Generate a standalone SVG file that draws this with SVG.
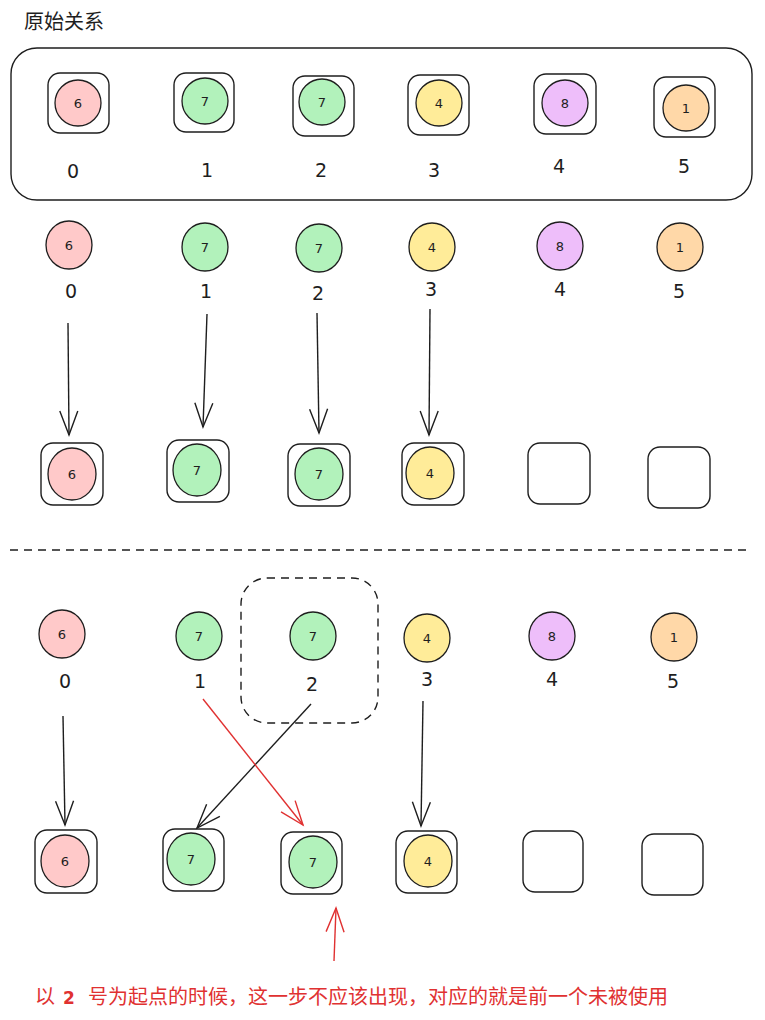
<svg xmlns="http://www.w3.org/2000/svg" width="765" height="1020" viewBox="0 0 765 1020">
  <style>
    .box { fill: none; stroke: #1e1e1e; stroke-width: 1.4; }
    .dash { fill: none; stroke: #1e1e1e; stroke-width: 1.4; stroke-dasharray: 8 6; }
    .dot { stroke: #1e1e1e; stroke-width: 1.3; }
    .c6 { fill: #ffc9c9; }
    .c7 { fill: #b2f2bb; }
    .c4 { fill: #ffec99; }
    .c8 { fill: #eebefa; }
    .c1 { fill: #ffd8a8; }
    .num { font-family: "DejaVu Sans", sans-serif; font-size: 13px; fill: #1e1e1e; text-anchor: middle; }
    .idx { font-family: "DejaVu Sans", sans-serif; font-size: 19px; fill: #1e1e1e; text-anchor: middle; }
    .title { font-family: "Noto Sans CJK SC", "Liberation Sans", sans-serif; font-size: 20px; fill: #1e1e1e; }
    .note { font-family: "Noto Sans CJK SC", "Liberation Sans", sans-serif; font-size: 20px; fill: #e03131; }
    .edge { fill: none; stroke: #1e1e1e; stroke-width: 1.4; marker-end: url(#head); }
    .edge-red { fill: none; stroke: #e03131; stroke-width: 1.4; marker-end: url(#head-red); }
  </style>
  <defs>
    <marker id="head" markerUnits="userSpaceOnUse" markerWidth="30" markerHeight="30" viewBox="-26 -12 30 24" refX="0" refY="0" orient="auto">
      <path d="M -24 -9 L 0 0 L -24 9" fill="none" stroke="#1e1e1e" stroke-width="1.4"/>
    </marker>
    <marker id="head-red" markerUnits="userSpaceOnUse" markerWidth="30" markerHeight="30" viewBox="-26 -12 30 24" refX="0" refY="0" orient="auto">
      <path d="M -24 -9 L 0 0 L -24 9" fill="none" stroke="#e03131" stroke-width="1.4"/>
    </marker>
  </defs>

  <rect width="765" height="1020" fill="#ffffff"/>

  <text class="title" x="24" y="29">原始关系</text>

  <!-- original relation: frame around the six slots -->
  <g id="frame-original">
    <rect class="box" x="11" y="48" width="741" height="152" rx="26"/>
  </g>

  <!-- row 1: slots with colours -->
  <g id="orig-0"><rect class="box" x="48" y="73" width="61" height="60" rx="12"/><ellipse class="dot c6" cx="78" cy="103" rx="23" ry="23"/><text class="num" x="78" y="108">6</text><text class="idx" x="73" y="178">0</text></g>
  <g id="orig-1"><rect class="box" x="174" y="73" width="60" height="59" rx="12"/><ellipse class="dot c7" cx="205" cy="101" rx="23" ry="23"/><text class="num" x="205" y="106">7</text><text class="idx" x="207" y="177">1</text></g>
  <g id="orig-2"><rect class="box" x="293" y="76" width="61" height="60" rx="12"/><ellipse class="dot c7" cx="322" cy="102" rx="23" ry="23"/><text class="num" x="322" y="107">7</text><text class="idx" x="321" y="177">2</text></g>
  <g id="orig-3"><rect class="box" x="408" y="75" width="61" height="60" rx="12"/><ellipse class="dot c4" cx="439" cy="103" rx="23" ry="23"/><text class="num" x="439" y="108">4</text><text class="idx" x="434" y="177">3</text></g>
  <g id="orig-4"><rect class="box" x="534" y="74" width="62" height="60" rx="12"/><ellipse class="dot c8" cx="565" cy="103" rx="23" ry="23"/><text class="num" x="565" y="108">8</text><text class="idx" x="559" y="173">4</text></g>
  <g id="orig-5"><rect class="box" x="654" y="77" width="61" height="60" rx="12"/><ellipse class="dot c1" cx="686" cy="108" rx="23" ry="23"/><text class="num" x="686" y="113">1</text><text class="idx" x="684" y="173">5</text></g>

  <!-- row 2: loose values -->
  <g id="a-0"><ellipse class="dot c6" cx="69" cy="245" rx="23" ry="24"/><text class="num" x="69" y="250">6</text><text class="idx" x="71" y="298">0</text></g>
  <g id="a-1"><ellipse class="dot c7" cx="205" cy="247" rx="23" ry="24"/><text class="num" x="205" y="252">7</text><text class="idx" x="206" y="298">1</text></g>
  <g id="a-2"><ellipse class="dot c7" cx="319" cy="248" rx="23" ry="24"/><text class="num" x="319" y="253">7</text><text class="idx" x="318" y="300">2</text></g>
  <g id="a-3"><ellipse class="dot c4" cx="432" cy="247" rx="23" ry="24"/><text class="num" x="432" y="252">4</text><text class="idx" x="431" y="296">3</text></g>
  <g id="a-4"><ellipse class="dot c8" cx="560" cy="246" rx="23" ry="24"/><text class="num" x="560" y="251">8</text><text class="idx" x="560" y="296">4</text></g>
  <g id="a-5"><ellipse class="dot c1" cx="680" cy="247" rx="23" ry="24"/><text class="num" x="680" y="252">1</text><text class="idx" x="679" y="298">5</text></g>

  <!-- row 3: placed slots -->
  <g id="b-0"><rect class="box" x="41" y="443" width="62" height="62" rx="12"/><ellipse class="dot c6" cx="72" cy="474" rx="24" ry="26"/><text class="num" x="72" y="479">6</text></g>
  <g id="b-1"><rect class="box" x="167" y="440" width="62" height="62" rx="12"/><ellipse class="dot c7" cx="197" cy="470" rx="24" ry="26"/><text class="num" x="197" y="475">7</text></g>
  <g id="b-2"><rect class="box" x="288" y="444" width="62" height="62" rx="12"/><ellipse class="dot c7" cx="319" cy="474" rx="24" ry="26"/><text class="num" x="319" y="479">7</text></g>
  <g id="b-3"><rect class="box" x="402" y="443" width="62" height="62" rx="12"/><ellipse class="dot c4" cx="430" cy="473" rx="24" ry="26"/><text class="num" x="430" y="478">4</text></g>
  <g id="b-4"><rect class="box" x="528" y="443" width="62" height="61" rx="12"/></g>
  <g id="b-5"><rect class="box" x="648" y="447" width="62" height="61" rx="12"/></g>

  <!-- separator -->
  <line class="dash" x1="10" y1="550" x2="752" y2="550"/>

  <!-- dashed highlight around index 2 -->
  <g id="highlight-2">
    <rect class="dash" x="241" y="578" width="137" height="145" rx="26"/>
  </g>

  <!-- row 4: loose values -->
  <g id="c-0"><ellipse class="dot c6" cx="62" cy="634" rx="23" ry="24"/><text class="num" x="62" y="639">6</text><text class="idx" x="65" y="688">0</text></g>
  <g id="c-1"><ellipse class="dot c7" cx="199" cy="636" rx="23" ry="24"/><text class="num" x="199" y="641">7</text><text class="idx" x="200" y="688">1</text></g>
  <g id="c-2"><ellipse class="dot c7" cx="313" cy="636" rx="23" ry="24"/><text class="num" x="313" y="641">7</text><text class="idx" x="312" y="691">2</text></g>
  <g id="c-3"><ellipse class="dot c4" cx="427" cy="638" rx="23" ry="24"/><text class="num" x="427" y="643">4</text><text class="idx" x="427" y="686">3</text></g>
  <g id="c-4"><ellipse class="dot c8" cx="552" cy="636" rx="23" ry="24"/><text class="num" x="552" y="641">8</text><text class="idx" x="552" y="686">4</text></g>
  <g id="c-5"><ellipse class="dot c1" cx="674" cy="637" rx="23" ry="24"/><text class="num" x="674" y="642">1</text><text class="idx" x="673" y="688">5</text></g>

  <!-- row 5: placed slots -->
  <g id="d-0"><rect class="box" x="35" y="830" width="62" height="63" rx="12"/><ellipse class="dot c6" cx="65" cy="861" rx="24" ry="26"/><text class="num" x="65" y="866">6</text></g>
  <g id="d-1"><rect class="box" x="163" y="829" width="61" height="62" rx="12"/><ellipse class="dot c7" cx="191" cy="859" rx="24" ry="26"/><text class="num" x="191" y="864">7</text></g>
  <g id="d-2"><rect class="box" x="281" y="832" width="61" height="62" rx="12"/><ellipse class="dot c7" cx="313" cy="862" rx="24" ry="26"/><text class="num" x="313" y="867">7</text></g>
  <g id="d-3"><rect class="box" x="396" y="831" width="61" height="62" rx="12"/><ellipse class="dot c4" cx="428" cy="861" rx="24" ry="26"/><text class="num" x="428" y="866">4</text></g>
  <g id="d-4"><rect class="box" x="523" y="831" width="60" height="61" rx="12"/></g>
  <g id="d-5"><rect class="box" x="642" y="834" width="61" height="61" rx="12"/></g>

  <!-- connectors -->
  <g id="connectors">
    <path class="edge" d="M 68 323 L 69 435"/>
    <path class="edge" d="M 207 314 L 203 427"/>
    <path class="edge" d="M 317 313 L 319 433"/>
    <path class="edge" d="M 430 309 L 429 435"/>

    <path class="edge" d="M 63 716 L 65 825"/>
    <path class="edge" d="M 311 704 L 197 828"/>
    <path class="edge-red" d="M 203 699 L 303 825"/>
    <path class="edge" d="M 423 701 L 421 826"/>
    <path class="edge-red" d="M 334 961 L 336 908"/>
  </g>

  <text class="note" y="1004"><tspan x="35">以</tspan><tspan x="63" font-weight="bold" font-family="DejaVu Sans, sans-serif" font-size="17">2</tspan><tspan x="88">号为起点的时候，这一步不应该出现，对应的就是前一个未被使用</tspan></text>
</svg>
